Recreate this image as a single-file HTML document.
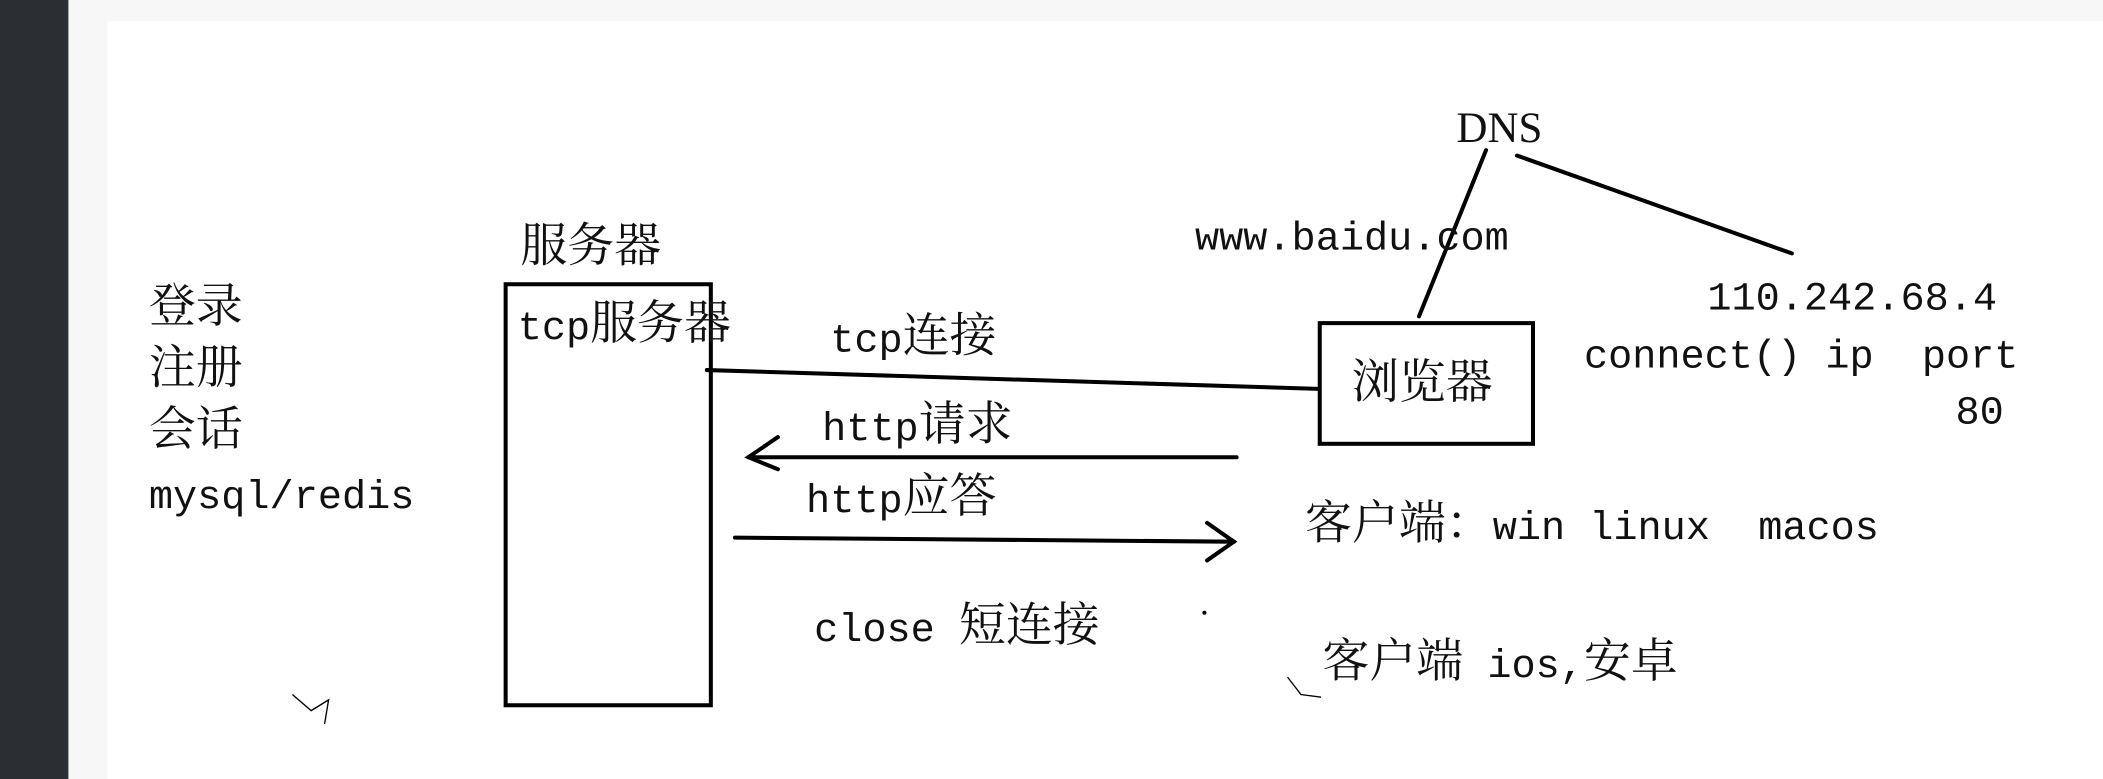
<!DOCTYPE html>
<html><head><meta charset="utf-8"><style>
html,body{margin:0;padding:0;background:#f7f7f7;}
svg{display:block}
text{font-family:"Liberation Mono","Noto Serif CJK SC",monospace;font-size:30px;fill:#111;white-space:pre;}
.c{font-family:"Noto Serif CJK SC","Noto Sans CJK SC",serif;font-size:35px;}
</style></head><body>
<svg width="2103" height="779" viewBox="0 0 1568 581" preserveAspectRatio="none" xmlns="http://www.w3.org/2000/svg">
<rect x="0" y="0" width="1568" height="581" fill="#f7f7f7"/>
<rect x="0" y="0" width="51" height="581" fill="#2b2f33"/>
<rect x="80" y="16" width="1488" height="565" fill="#ffffff"/>
<g stroke="#000" stroke-width="3" fill="none" stroke-linecap="round">
<rect x="377" y="212" width="153" height="314"/>
<rect x="984" y="241" width="159" height="90"/>
<line x1="527" y1="276" x2="983" y2="290"/>
<line x1="922" y1="341" x2="558" y2="341"/>
<polyline points="580,326 558,341 580,350"/>
<line x1="548" y1="401" x2="920" y2="404"/>
<polyline points="900,390 920,404 900,418"/>
<line x1="1108" y1="112" x2="1058" y2="236"/>
<line x1="1131" y1="116" x2="1336" y2="189"/>
</g>
<g stroke="#000" stroke-width="1" fill="none">
<polyline points="218,518 232,530 245,522 242,540"/>
<polyline points="960,505 970,518 985,520"/>
</g>
<circle cx="898" cy="457" r="1.5" fill="#000"/>
<text x="388" y="195" class="c">服务器</text>
<text x="111" y="240" class="c">登录</text>
<text x="111" y="286" class="c">注册</text>
<text x="111" y="332" class="c">会话</text>
<text x="111" y="379">mysql/redis</text>
<text x="386" y="253">tcp<tspan class="c">服务器</tspan></text>
<text x="619" y="262">tcp<tspan class="c">连接</tspan></text>
<text x="1008" y="297" class="c">浏览器</text>
<text x="613" y="328">http<tspan class="c">请求</tspan></text>
<text x="601" y="382">http<tspan class="c">应答</tspan></text>
<text x="607" y="478">close <tspan class="c">短连接</tspan></text>
<text x="1086" y="106" style="font-family:'Liberation Serif',serif;font-size:32px">DNS</text>
<text x="891" y="186">www.baidu.com</text>
<text x="1273" y="231">110.242.68.4</text>
<text x="1181" y="274">connect()&#160;ip&#160;&#160;port</text>
<text x="1458" y="316">80</text>
<text x="973" y="402"><tspan class="c">客户端：</tspan>win&#160;linux&#160;&#160;macos</text>
<text x="986" y="505"><tspan class="c">客户端</tspan>&#160;ios,<tspan class="c">安卓</tspan></text>
</svg>
</body></html>
